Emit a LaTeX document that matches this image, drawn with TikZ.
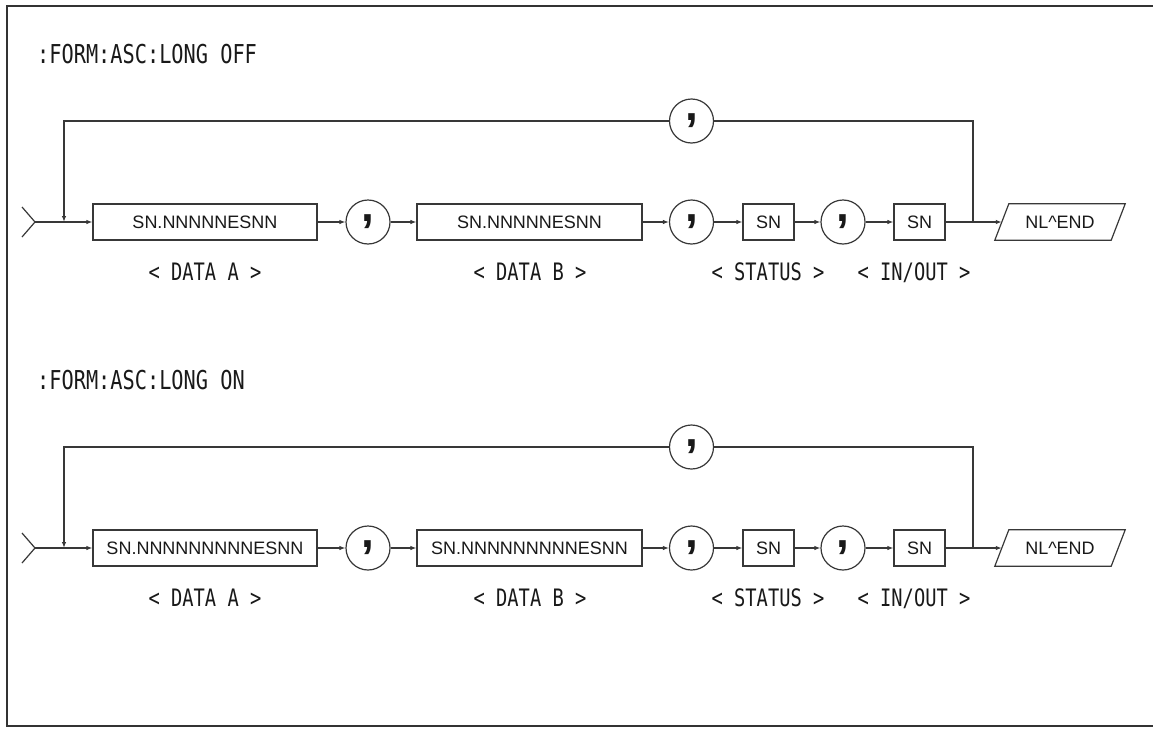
\documentclass[tikz,border=0pt]{standalone}
\usepackage{fontspec}
\setmainfont{Liberation Sans}
\newfontfamily\gothic[FakeStretch=0.78]{DejaVu Sans Mono}
\usetikzlibrary{arrows.meta}
\begin{document}
\begin{tikzpicture}[x=1pt,y=-1pt,
  ln/.style={draw=black!78, line width=1.2pt},
  arr/.style={ln, -{Latex[length=6pt,width=4.5pt]}},
  field/.style={draw=black!78, line width=1.2pt, minimum height=36pt, inner sep=0pt,
    font=\fontsize{18}{20}\selectfont, text=black!90},
  sepc/.style={circle, draw=black!78, line width=1.2pt, minimum size=44pt, inner sep=0pt,
    font=\fontsize{46}{46}\bfseries\selectfont, text=black!90},
  lbl/.style={font=\gothic\fontsize{24}{26}\selectfont, text=black!90, anchor=base},
  ttl/.style={font=\gothic\fontsize{26}{28}\selectfont, text=black!90, anchor=base west, inner sep=0pt}
]
\useasboundingbox (0,0) rectangle (1153,728);
\fill[white] (0,0) rectangle (1153,728);
% frame
\draw[line width=2pt, black!80] (1165,6) -- (6.5,6) -- (6.5,725.5) -- (1165,725.5);

\foreach \r/\Y/\dat/\st in {1/222/SN.NNNNNESNN/OFF, 2/548/SN.NNNNNNNNNESNN/ON}{
  \node[ttl] (t\r) at (37,{\Y-159}) {:FORM:ASC:LONG \st};
  % elements
  \node[field, minimum width=224pt] (a\r) at (205,\Y) {\dat};
  \node[sepc] (c\r) at (368,\Y) {\raisebox{-2pt}{,}};
  \node[field, minimum width=225pt] (b\r) at (529.5,\Y) {\dat};
  \node[sepc] (d\r) at (691.5,\Y) {\raisebox{-2pt}{,}};
  \node[field, minimum width=51pt] (s\r) at (768.5,\Y) {SN};
  \node[sepc] (f\r) at (843,\Y) {\raisebox{-2pt}{,}};
  \node[field, minimum width=51pt] (g\r) at (919.5,\Y) {SN};
  \node[sepc] (l\r) at (691.5,{\Y-101}) {\raisebox{-2pt}{,}};
  % terminator
  \node[minimum width=116pt, minimum height=36pt, inner sep=0pt,
        font=\fontsize{18}{20}\selectfont, text=black!90] (e\r) at (1060,\Y) {NL\textasciicircum END};
  \draw[ln] ([xshift=-7pt]e\r.south west) -- ([xshift=7pt]e\r.north west)
     -- ([xshift=7pt]e\r.north east) -- ([xshift=-7pt]e\r.south east) -- cycle;
  % labels
  \node[lbl] (la\r) at (205,{\Y+58}) {< DATA A >};
  \node[lbl] (lb\r) at (530,{\Y+58}) {< DATA B >};
  \node[lbl] (ls\r) at (768,{\Y+58}) {< STATUS >};
  \node[lbl] (li\r) at (914,{\Y+58}) {< IN/OUT >};
  % entry
  \coordinate (ent\r) at (35,\Y);
  \coordinate (jin\r) at (64,\Y);
  \coordinate (jout\r) at (973,\Y);
  \draw[ln] (22,{\Y-15}) -- (ent\r) -- (22,{\Y+15});
  \draw[ln] (ent\r) -- (jin\r);
  \draw[arr] (jin\r) -- (a\r.west);
  \draw[arr] (a\r.east) -- (c\r.west);
  \draw[arr] (c\r.east) -- (b\r.west);
  \draw[arr] (b\r.east) -- (d\r.west);
  \draw[arr] (d\r.east) -- (s\r.west);
  \draw[arr] (s\r.east) -- (f\r.west);
  \draw[arr] (f\r.east) -- (g\r.west);
  \draw[ln] (g\r.east) -- (jout\r);
  \draw[arr] (jout\r) -- (e\r.west);
  \draw[ln] (jout\r) |- (l\r.east);
  \draw[arr] (l\r.west) -| (jin\r);
}
\end{tikzpicture}
\end{document}
